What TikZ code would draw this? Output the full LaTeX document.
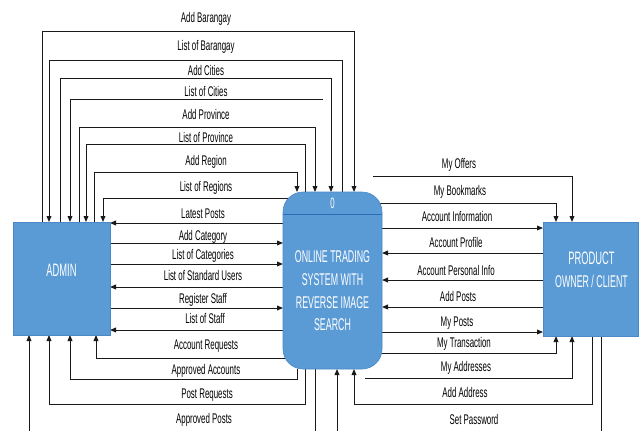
\documentclass[tikz,border=0pt]{standalone}
\usepackage{fontspec}
\setmainfont{Liberation Sans}
\newfontfamily\lblfont{Liberation Sans}[FakeStretch=0.565]
\newfontfamily\boxfont{Liberation Sans}[FakeStretch=0.52]
\usetikzlibrary{arrows.meta,backgrounds}
\definecolor{entblue}{HTML}{5B9BD5}
\definecolor{entedge}{HTML}{4A88C7}
\definecolor{hdrline}{HTML}{2E6DB4}
\definecolor{flowcol}{HTML}{1A1A1A}
\begin{document}
\begin{tikzpicture}[x=1pt,y=-1pt,
  entity/.style={fill=entblue, draw=entedge, line width=0.6pt, inner sep=0pt, outer sep=0pt},
  process/.style={entity, rounded corners=20pt},
  boxtxt/.style={text=white, align=center, inner sep=0pt, font=\boxfont\fontsize{17}{22.7}\selectfont},
  lbl/.style={inner sep=0pt, text=black, text height=10pt, text depth=0pt,
              font=\lblfont\fontsize{14}{16}\selectfont},
  flow/.style={draw=flowcol, line width=1pt, -{Triangle[length=6pt,width=4.8pt]}}
]
\useasboundingbox (0,0) rectangle (640,431);

% external entities and the process
\node[entity, minimum width=97pt, minimum height=113pt] (admin) at (61.5,278.5) {};
\node[entity, minimum width=95pt, minimum height=114pt] (client) at (590.5,279) {};
\node[process, minimum width=99pt, minimum height=177pt] (sys) at (332.5,280.5) {};
\draw[hdrline, line width=1pt] ([yshift=-22pt]sys.north west) -- ([yshift=-22pt]sys.north east);

\node[boxtxt] (admintxt) at (61.5,270) {\fontsize{18}{24}\selectfont ADMIN};
\node[boxtxt] (clienttxt) at (591.5,270) {\fontsize{18}{25}\selectfont PRODUCT\\OWNER / CLIENT};
\node[boxtxt] (sysid) at (332.5,203.5) {\fontsize{15}{17}\selectfont 0};
\node[boxtxt] (systxt) at (332.5,291) {ONLINE TRADING\\SYSTEM WITH\\REVERSE IMAGE\\SEARCH};

% free ends of three connectors
\coordinate (citiesend) at (323,99);
\coordinate (offersend) at (373,176);
\coordinate (addrend) at (365,378);

\begin{scope}[on background layer]
  \fill[white] (0,0) rectangle (640,431);
  \clip (0,0) rectangle (640,431);
  % admin <-> system, over the top
  \draw[flow] (admin.north -| 42,0) |- (354,31) -- (sys.north -| 354,0);
  \draw[flow] (sys.north -| 342,0) |- (49,60) -- (admin.north -| 49,0);
  \draw[flow] (admin.north -| 60,0) |- (331,78) -- (sys.north -| 331,0);
  \draw[flow] (citiesend) -| (admin.north -| 70,0);
  \draw[flow] (admin.north -| 79,0) |- (315,127) -- (sys.north -| 315,0);
  \draw[flow] (sys.north -| 305,0) |- (86,144) -- (admin.north -| 86,0);
  \draw[flow] (admin.north -| 94,0) |- (297,172) -- (sys.north -| 297,0);
  \draw[flow] (sys.center |- 0,198) -| (admin.north -| 103,0);
  % admin <-> system, straight across
  \draw[flow] (sys.west |- 0,223) -- (admin.east |- 0,223);
  \draw[flow] (admin.east |- 0,243) -- (sys.west |- 0,243);
  \draw[flow] (admin.east |- 0,264) -- (sys.west |- 0,264);
  \draw[flow] (sys.west |- 0,287) -- (admin.east |- 0,287);
  \draw[flow] (admin.east |- 0,308) -- (sys.west |- 0,308);
  \draw[flow] (sys.west |- 0,330) -- (admin.east |- 0,330);
  % admin <-> system, underneath
  \draw[flow] (sys.center |- 0,358) -| (admin.south -| 96,0);
  \draw[flow] (sys.south -| 297,0) |- (70,379) -- (admin.south -| 70,0);
  \draw[flow] (sys.south -| 305,0) |- (49,404) -- (admin.south -| 49,0);
  \draw[flow] (sys.south -| 315,0) |- (29,445) -- (admin.south -| 29,0);
  % system <-> product owner / client
  \draw[flow] (offersend) -| (client.north -| 572,0);
  \draw[flow] (sys.center |- 0,203) -| (client.north -| 556,0);
  \draw[flow] (sys.east |- 0,228) -- (client.west |- 0,228);
  \draw[flow] (client.west |- 0,253) -- (sys.east |- 0,253);
  \draw[flow] (client.west |- 0,280) -- (sys.east |- 0,280);
  \draw[flow] (client.west |- 0,307) -- (sys.east |- 0,307);
  \draw[flow] (sys.east |- 0,332) -- (client.west |- 0,332);
  \draw[flow] (sys.center |- 0,353) -| (client.south -| 556,0);
  \draw[flow] (addrend) -| (client.south -| 572,0);
  \draw[flow] (client.south -| 592,0) |- (354,404) -- (sys.south -| 354,0);
  \draw[flow] (client.south -| 601,0) |- (337,445) -- (sys.south -| 337,0);
\end{scope}

% flow labels
\node[lbl] (l1) at (206,18) {Add Barangay};
\node[lbl] (l2) at (206,45) {List of Barangay};
\node[lbl] (l3) at (206,70) {Add Cities};
\node[lbl] (l4) at (206,91) {List of Cities};
\node[lbl] (l5) at (206,114) {Add Province};
\node[lbl] (l6) at (206,137) {List of Province};
\node[lbl] (l7) at (206,160) {Add Region};
\node[lbl] (l8) at (206,186) {List of Regions};
\node[lbl] (l9) at (203,213) {Latest Posts};
\node[lbl] (l10) at (203,235) {Add Category};
\node[lbl] (l11) at (203,254) {List of Categories};
\node[lbl] (l12) at (203,275) {List of Standard Users};
\node[lbl] (l13) at (203,298) {Register Staff};
\node[lbl] (l14) at (205,318) {List of Staff};
\node[lbl] (l15) at (206,344) {Account Requests};
\node[lbl] (l16) at (206,369) {Approved Accounts};
\node[lbl] (l17) at (207,393) {Post Requests};
\node[lbl] (l18) at (204,418) {Approved Posts};
\node[lbl] (r1) at (459,163) {My Offers};
\node[lbl] (r2) at (460,190) {My Bookmarks};
\node[lbl] (r3) at (457,216) {Account Information};
\node[lbl] (r4) at (456,242) {Account Profile};
\node[lbl] (r5) at (456,270) {Account Personal Info};
\node[lbl] (r6) at (458,296) {Add Posts};
\node[lbl] (r7) at (457,321) {My Posts};
\node[lbl] (r8) at (464,342) {My Transaction};
\node[lbl] (r9) at (466,366) {My Addresses};
\node[lbl] (r10) at (465,392) {Add Address};
\node[lbl] (r11) at (474,419) {Set Password};
\end{tikzpicture}
\end{document}
